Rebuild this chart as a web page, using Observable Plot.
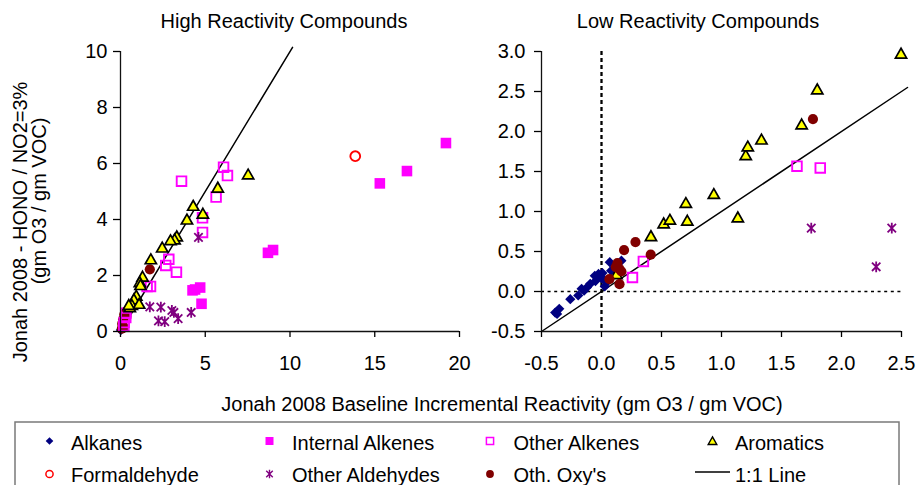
<!DOCTYPE html>
<html>
<head>
<meta charset="utf-8">
<script src="https://cdn.jsdelivr.net/npm/d3@7"></script>
<script src="https://cdn.jsdelivr.net/npm/@observablehq/plot@0.6"></script>
<style>
  body { margin: 0; background: #fff; }
  #chart { position: relative; width: 916px; height: 485px; overflow: hidden;
           font-family: "Liberation Sans", Arial, sans-serif; }
  #chart > div, #chart > svg { position: absolute; top: 0; }
</style>
</head>
<body>
<div id="chart"></div>
<script>
// ---- High reactivity compounds: [baseline MIR, HONO/NO2=3% MIR] ----
const highAlkanes = [[0.02, 0.05], [0.08, 0.12]];
const highInternalAlkenes = [[19.2, 6.73], [16.9, 5.73], [15.3, 5.29], [9.0, 2.91], [8.7, 2.81],
  [4.7, 1.57], [4.4, 1.5], [4.25, 1.47], [4.78, 0.99]];
const highOtherAlkenes = [[6.08, 5.87], [6.31, 5.57], [3.6, 5.37], [5.64, 4.8], [4.84, 4.06],
  [4.84, 3.54], [2.85, 2.58], [2.67, 2.36], [3.3, 2.12], [1.77, 1.61], [1.57, 1.61],
  [0.31, 0.65], [0.31, 0.5], [0.22, 0.32], [0.2, 0.2]];
const highAromatics = [[7.53, 5.61], [5.74, 5.14], [4.86, 4.21], [4.29, 4.49], [3.92, 4.0],
  [3.32, 3.4], [3.19, 3.29], [2.95, 3.26], [2.46, 3.0], [1.79, 2.58], [1.3, 1.96], [1.14, 1.76],
  [1.18, 1.66], [0.93, 1.28], [0.79, 1.15], [0.67, 0.95], [1.1, 0.99], [0.55, 0.87], [0.49, 0.95]];
const highFormaldehyde = [[13.85, 6.26]];
const highOtherAldehydes = [[4.6, 3.36], [1.73, 0.88], [2.38, 0.87], [3.03, 0.75], [3.15, 0.68],
  [4.17, 0.68], [2.24, 0.38], [2.61, 0.35], [3.4, 0.46]];
const highOthOxys = [[1.73, 2.22], [0.3, 0.7], [0.22, 0.6], [0.35, 0.55], [0.15, 0.42],
  [0.1, 0.28], [0.2, 0.15], [0.08, 0.1]];

// ---- Low reactivity compounds ----
const lowAlkanes = [[-0.386, -0.263], [-0.37, -0.28], [-0.352, -0.217], [-0.26, -0.096],
  [-0.194, -0.05], [-0.166, 0.034], [-0.145, 0.01], [-0.122, 0.05], [-0.094, 0.096],
  [-0.056, 0.196], [-0.05, 0.13], [-0.025, 0.22], [0, 0.167], [0.008, 0.23], [0.02, 0.15],
  [0.027, 0.063], [0.044, 0.117], [0.069, 0.367], [0.08, 0.26], [0.113, 0.305], [0.166, 0.385]];
const lowOtherAlkenes = [[0.349, 0.376], [0.258, 0.175], [1.629, 1.566], [1.823, 1.545]];
const lowAromatics = [[0.125, 0.217], [0.412, 0.693], [0.518, 0.852], [0.57, 0.898],
  [0.703, 1.107], [0.715, 0.886], [0.936, 1.219], [1.136, 0.927], [1.202, 1.704],
  [1.219, 1.813], [1.333, 1.9], [1.668, 2.089], [1.798, 2.527], [2.496, 2.974]];
const lowOtherAldehydes = [[1.748, 0.793], [2.419, 0.793], [2.289, 0.309]];
const lowOthOxys = [[1.762, 2.155], [0.283, 0.618], [0.188, 0.518], [0.41, 0.46], [0.133, 0.355],
  [0.119, 0.305], [0.15, 0.28], [0.166, 0.25], [0.066, 0.154], [0.15, 0.092]];

// 1:1 reference line extents (y = x)
const oneToOneHigh = [0, 10.15];
const oneToOneLow = [-0.5, 2.55];

// axis ticks
const highXTicks = [0, 5, 10, 15, 20];
const highYTicks = [0, 2, 4, 6, 8, 10];
const lowXTicks = [-0.5, 0, 0.5, 1, 1.5, 2, 2.5];
const lowYTicks = [-0.5, 0, 0.5, 1, 1.5, 2, 2.5, 3];

const legendRow1 = ["Alkanes", "Internal Alkenes", "Other Alkenes", "Aromatics"];
const legendRow2 = ["Formaldehyde", "Other Aldehydes", "Oth. Oxy's", "1:1 Line"];

// ---- marker shapes; r is the half-width ----
const shape = fn => ({draw(ctx, size) { fn(ctx, Math.sqrt(size / Math.PI)); }});
const diamondSym = shape((c, r) => { c.moveTo(0, -r); c.lineTo(r, 0); c.lineTo(0, r); c.lineTo(-r, 0); c.closePath(); });
const squareSym = shape((c, r) => { c.rect(-r, -r, 2 * r, 2 * r); });
const triangleSym = shape((c, r) => { c.moveTo(0, -0.95 * r); c.lineTo(r, 0.8 * r); c.lineTo(-r, 0.8 * r); c.closePath(); });
const asteriskSym = shape((c, r) => {
  const d = r * 0.78;
  c.moveTo(-d, -d); c.lineTo(d, d); c.moveTo(-d, d); c.lineTo(d, -d);
  c.moveTo(0, -r); c.lineTo(0, r);
});
const circleSym = shape((c, r) => { c.moveTo(r, 0); c.arc(0, 0, r, 0, 2 * Math.PI); c.closePath(); });

const styles = {
  alkanes:        {symbol: diamondSym, r: 5.1, fill: "#000080", stroke: "none"},
  internal:       {symbol: squareSym, r: 5.3, fill: "#FF00FF", stroke: "none"},
  otherAlkenes:   {symbol: squareSym, r: 4.8, fill: "none", stroke: "#FF00FF", strokeWidth: 1.9},
  aromatics:      {symbol: triangleSym, r: 5.6, fill: "#FFFF00", stroke: "#000", strokeWidth: 1.7},
  formaldehyde:   {symbol: circleSym, r: 4.9, fill: "none", stroke: "#FF0000", strokeWidth: 1.9},
  otherAldehydes: {symbol: asteriskSym, r: 5.4, fill: "none", stroke: "#800080", strokeWidth: 1.8},
  othOxys:        {symbol: circleSym, r: 5.1, fill: "#800000", stroke: "none"}
};
const dots = (data, key) => Plot.dot(data, {x: d => d[0], y: d => d[1], ...styles[key]});
const FONT = '"Liberation Sans", Arial, sans-serif';

function panel({width, marginLeft, marginRight, xDomain, yDomain, xTicks, yTicks, fmt, yPad, marks}) {
  return Plot.plot({
    width, height: 380, marginLeft, marginRight, marginTop: 51, marginBottom: 49,
    style: {fontFamily: FONT, fontSize: "20px", color: "#000", background: "transparent", overflow: "visible"},
    x: {domain: xDomain}, y: {domain: yDomain},
    marks: [
      ...marks,
      Plot.ruleX([xDomain[0]], {stroke: "#111", strokeWidth: 1.3}),
      Plot.ruleY([yDomain[0]], {stroke: "#111", strokeWidth: 1.3}),
      Plot.axisX({ticks: xTicks, tickSize: 6, tickPadding: 18, tickFormat: fmt, label: null, strokeWidth: 1.3}),
      Plot.axisY({ticks: yTicks, tickSize: 7, tickPadding: yPad, tickFormat: fmt, label: null, strokeWidth: 1.3})
    ]
  });
}

const high = panel({
  width: 470, marginLeft: 120, marginRight: 11,
  xDomain: [0, 20], yDomain: [0, 10], xTicks: highXTicks, yTicks: highYTicks,
  fmt: d => String(d), yPad: 6,
  marks: [
    Plot.line(oneToOneHigh, {x: d => d, y: d => d, stroke: "#000", strokeWidth: 1.5}),
    dots(highAlkanes, "alkanes"),
    dots(highOthOxys, "othOxys"),
    dots(highInternalAlkenes, "internal"),
    dots(highOtherAlkenes, "otherAlkenes"),
    dots(highAromatics, "aromatics"),
    dots(highFormaldehyde, "formaldehyde"),
    dots(highOtherAldehydes, "otherAldehydes")
  ]
});

const low = panel({
  width: 446, marginLeft: 71, marginRight: 15,
  xDomain: [-0.5, 2.5], yDomain: [-0.5, 3.0], xTicks: lowXTicks, yTicks: lowYTicks,
  fmt: d => d.toFixed(1), yPad: 9,
  marks: [
    Plot.ruleX([0], {stroke: "#000", strokeWidth: 2.3, strokeDasharray: "4,3"}),
    Plot.ruleY([0], {stroke: "#000", strokeWidth: 1.3, strokeDasharray: "3,3.6"}),
    Plot.line(oneToOneLow, {x: d => d, y: d => d, stroke: "#000", strokeWidth: 1.5}),
    dots(lowAlkanes, "alkanes"),
    dots(lowOtherAlkenes, "otherAlkenes"),
    dots(lowAromatics, "aromatics"),
    dots(lowOthOxys, "othOxys"),
    dots(lowOtherAldehydes, "otherAldehydes")
  ]
});

const chart = document.getElementById("chart");
const wrapHigh = document.createElement("div");
wrapHigh.style.left = "0px"; wrapHigh.appendChild(high);
const wrapLow = document.createElement("div");
wrapLow.style.left = "470px"; wrapLow.appendChild(low);
chart.appendChild(wrapHigh);
chart.appendChild(wrapLow);

// ---- titles, axis titles and legend ----
const svg = d3.select(chart).append("svg")
  .attr("width", 916).attr("height", 485)
  .style("left", "0px").style("pointer-events", "none")
  .attr("font-family", FONT).attr("font-size", 20).attr("fill", "#000");

svg.append("text").attr("x", 284).attr("y", 28).attr("text-anchor", "middle").text("High Reactivity Compounds");
svg.append("text").attr("x", 698).attr("y", 28).attr("text-anchor", "middle").text("Low Reactivity Compounds");
svg.append("text").attr("x", 502).attr("y", 411).attr("text-anchor", "middle")
  .text("Jonah 2008 Baseline Incremental Reactivity (gm O3 / gm VOC)");
svg.append("text").attr("transform", "translate(27,222) rotate(-90)").attr("text-anchor", "middle")
  .text("Jonah 2008 - HONO / NO2=3%");
svg.append("text").attr("transform", "translate(46,201) rotate(-90)").attr("text-anchor", "middle")
  .text("(gm O3 / gm VOC)");

svg.append("rect").attr("x", 15).attr("y", 422).attr("width", 884).attr("height", 90)
  .attr("fill", "none").attr("stroke", "#7a7a7a").attr("stroke-width", 1.5);

const legendStyles = {
  "Alkanes":          {...styles.alkanes, r: 3.8},
  "Internal Alkenes": {...styles.internal, r: 4},
  "Other Alkenes":    {...styles.otherAlkenes, r: 3.6, strokeWidth: 1.5},
  "Aromatics":        {...styles.aromatics, r: 4.3, strokeWidth: 1.4},
  "Formaldehyde":     {...styles.formaldehyde, r: 3.6, strokeWidth: 1.5},
  "Other Aldehydes":  {...styles.otherAldehydes, r: 4.2, strokeWidth: 1.4},
  "Oth. Oxy's":       {...styles.othOxys, r: 3.9}
};
const markerX = [49.5, 269.5, 490, 712.5];
const textX = [71, 292, 513.5, 735];
[[legendRow1, 441, 450], [legendRow2, 474, 482]].forEach(([labels, cy, base]) => {
  labels.forEach((label, i) => {
    const s = legendStyles[label];
    if (s) {
      svg.append("path")
        .attr("transform", `translate(${markerX[i]},${cy})`)
        .attr("d", d3.symbol(s.symbol, s.r * s.r * Math.PI)())
        .attr("fill", s.fill).attr("stroke", s.stroke).attr("stroke-width", s.strokeWidth || 0);
    } else {
      svg.append("line").attr("x1", 695).attr("x2", 730).attr("y1", cy - 2).attr("y2", cy - 2)
        .attr("stroke", "#000").attr("stroke-width", 1.5);
    }
    svg.append("text").attr("x", textX[i]).attr("y", base).text(label);
  });
});
</script>
</body>
</html>
